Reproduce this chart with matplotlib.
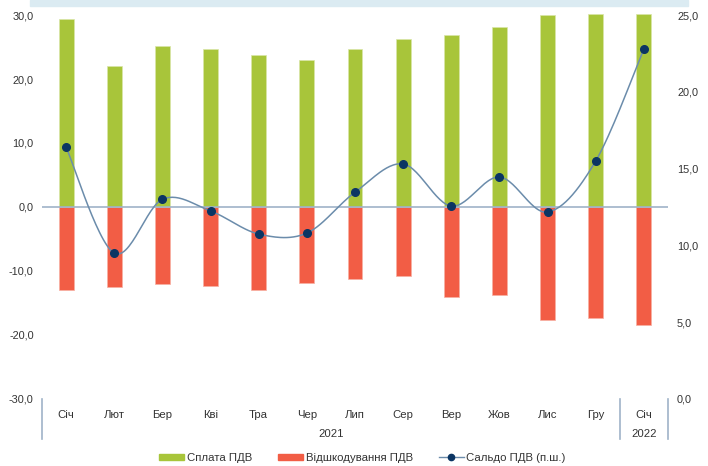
import numpy as np
import matplotlib.pyplot as plt
from matplotlib.lines import Line2D
from matplotlib.patches import Patch, Rectangle

plt.rcParams['font.family'] = ['Liberation Sans', 'DejaVu Sans']

months = ['Січ', 'Лют', 'Бер', 'Кві', 'Тра', 'Чер', 'Лип', 'Сер', 'Вер', 'Жов', 'Лис', 'Гру', 'Січ']
years = ['2021', '2022']
paid = [29.4, 22.0, 25.1, 24.7, 23.7, 22.9, 24.7, 26.2, 26.9, 28.2, 30.0, 30.1, 30.1]
refund = [-13.0, -12.5, -12.1, -12.4, -13.0, -11.9, -11.2, -10.8, -14.1, -13.7, -17.7, -17.3, -18.4]
balance = [16.4, 9.5, 13.0, 12.24, 10.74, 10.8, 13.46, 15.3, 12.56, 14.45, 12.17, 15.5, 22.8]

green = '#a8c53a'
red = '#f25d45'
navy = '#0b3563'
linec = '#6b8cab'
gridc = '#9fb3c8'


# smooth line like excel (catmull-rom between the points)
def smooth(x, y, n=30):
    x = np.asarray(x, float)
    y = np.asarray(y, float)
    px = np.concatenate([[x[0]], x, [x[-1]]])
    py = np.concatenate([[y[0]], y, [y[-1]]])
    xs, ys = [], []
    t = np.linspace(0, 1, n)
    for i in range(1, len(px) - 2):
        for p, out in ((px, xs), (py, ys)):
            p0, p1, p2, p3 = p[i - 1], p[i], p[i + 1], p[i + 2]
            out.extend(0.5 * ((2 * p1) + (-p0 + p2) * t
                              + (2 * p0 - 5 * p1 + 4 * p2 - p3) * t ** 2
                              + (-p0 + 3 * p1 - 3 * p2 + p3) * t ** 3))
    return np.array(xs), np.array(ys)


fig = plt.figure(figsize=(7.08, 4.66), dpi=100)
ax = fig.add_axes([0.0593, 0.1438, 0.8842, 0.824])
ax2 = ax.twinx()

x = np.arange(len(months))
ax.bar(x, paid, width=0.31, color=green, edgecolor='#d9e6a8', linewidth=0.5, clip_on=False, zorder=2)
ax.bar(x, refund, width=0.31, color=red, edgecolor='#f7b0a3', linewidth=0.5, zorder=2)
ax.axhline(0, color=gridc, linewidth=1.2, zorder=3)
ax.set_ylim(-30, 30)
ax.set_xlim(-0.5, len(months) - 0.5)
ax.set_yticks(np.arange(-30, 31, 10))
ax.set_yticklabels([f'{v:.1f}'.replace('.', ',') for v in np.arange(-30, 31, 10)])
ax.set_xticks(x)
ax.set_xticklabels(months)

sx, sy = smooth(x, balance)
ax2.plot(sx, sy, color=linec, linewidth=1.1, zorder=4)
ax2.plot(x, balance, 'o', color=navy, markersize=5.5, zorder=5)
ax2.set_ylim(0, 25)
ax2.set_yticks(np.arange(0, 26, 5))
ax2.set_yticklabels([f'{v:.1f}'.replace('.', ',') for v in np.arange(0, 26, 5)])

for a in (ax, ax2):
    for s in a.spines.values():
        s.set_visible(False)
    a.tick_params(length=0, labelsize=7.8, colors='#333333')
ax.tick_params(axis='y', pad=6)
ax2.tick_params(axis='y', pad=6.5)
ax.tick_params(axis='x', pad=8, labelsize=8.2)

# category axis separators and year labels
for xv in (-0.5, 11.5, 12.5):
    ax.plot([xv, xv], [0, -0.105], transform=ax.get_xaxis_transform(), color=gridc,
            linewidth=1.2, clip_on=False)
ax.text(5.5, -0.091, years[0], transform=ax.get_xaxis_transform(), ha='center', va='center',
        fontsize=8.2, color='#333333')
ax.text(12, -0.091, years[1], transform=ax.get_xaxis_transform(), ha='center', va='center',
        fontsize=8.2, color='#333333')

# light strip at the top
fig.patches.append(Rectangle((30 / 708, 1 - 6 / 466), 658 / 708, 6 / 466, transform=fig.transFigure,
                             color='#dbebf2', zorder=0))

handles = [Patch(color=green), Patch(color=red),
           Line2D([], [], color=linec, marker='o', markerfacecolor=navy, markeredgecolor=navy,
                  markersize=4.5, linewidth=1)]
fig.legend(handles, ['Сплата ПДВ', 'Відшкодування ПДВ', 'Сальдо ПДВ (п.ш.)'],
           loc='center', bbox_to_anchor=(0.512, 0.017), ncol=3, frameon=False, fontsize=8.2,
           handlelength=2.2, handleheight=0.5, handletextpad=0.2, columnspacing=2.3,
           labelcolor='#333333')

fig.savefig('out.png', dpi=100)
